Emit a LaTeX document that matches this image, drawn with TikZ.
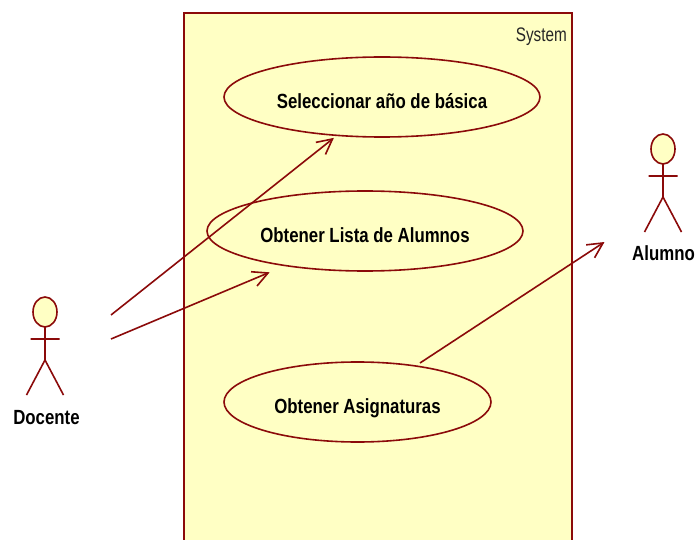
\documentclass[tikz,border=0pt]{standalone}
\usepackage{fontspec}
\setmainfont{Liberation Sans}
\newfontfamily\narrowbold[FakeStretch=0.82]{Liberation Sans Bold}
\newfontfamily\narrowreg[FakeStretch=0.78]{Liberation Sans}
\usetikzlibrary{shapes.geometric,calc}
\definecolor{umlline}{HTML}{8B0A0A}
\definecolor{umlfill}{HTML}{FFFFC4}
\tikzset{
  x=1pt,y=-1pt,
  umlstroke/.style={draw=umlline,line width=1.6pt},
  usecase/.style={ellipse,umlstroke,inner sep=0pt,outer sep=0pt,minimum width=#1,minimum height=80pt,
    text height=23pt,text depth=0pt,
    font=\narrowbold\fontsize{20.5}{24}\selectfont,text=black},
  actorhead/.style={ellipse,umlstroke,fill=umlfill,inner sep=0pt,outer sep=0pt,minimum width=24pt,minimum height=30pt},
  actorlabel/.style={inner sep=0pt,font=\narrowbold\fontsize{20.5}{24}\selectfont,text=black},
}
\newcommand{\umlactor}[3]{%
  \node[actorhead] (#3head) at (#1,#2) {};
  \coordinate (#3hip) at (#1,#2+48);
  \coordinate (#3armL) at (#1-14.5,#2+27);
  \coordinate (#3armR) at (#1+14.5,#2+27);
  \coordinate (#3legL) at (#1-18.5,#2+83);
  \coordinate (#3legR) at (#1+18.5,#2+83);
  \draw[umlstroke] (#3head.south) -- (#3hip) (#3armL) -- (#3armR) (#3hip) -- (#3legL) (#3hip) -- (#3legR);
}
\newcommand{\assocline}[2]{%
  \draw[umlstroke] (#1) -- (#2);
  \draw[umlstroke,line join=miter] ($(#2)!17pt!27:(#1)$) -- (#2) -- ($(#2)!17pt!-27:(#1)$);
}
\begin{document}
\begin{tikzpicture}
\useasboundingbox (0,0) rectangle (696,540);
\fill[umlfill] (184,13) rectangle (572,540);
\draw[umlstroke] (184,540) -- (184,13) -- (572,13) -- (572,540);
\node[anchor=east,inner sep=0pt,font=\narrowreg\fontsize{19.6}{22}\selectfont,text=black!85] (sys) at (567,36.5) {System};

\node[usecase=316pt] (uc1) at (382,97) {Seleccionar año de básica};
\node[usecase=316pt] (uc2) at (365,231) {Obtener Lista de Alumnos};
\node[usecase=267pt] (uc3) at (357.5,402) {Obtener Asignaturas};

\umlactor{45}{312}{doc}
\node[actorlabel] (doclabel) at (46.5,418) {Docente};
\umlactor{663}{149}{alu}
\node[actorlabel] (alulabel) at (663.5,253) {Alumno};

\coordinate (docoutA) at (111,315);
\coordinate (docoutB) at (111,339);
\coordinate (uc1in) at (332.5,139);
\coordinate (uc2in) at (268,273);
\coordinate (uc3out) at (420,363);
\coordinate (aluin) at (603,243);
\assocline{docoutA}{uc1in}
\assocline{docoutB}{uc2in}
\assocline{uc3out}{aluin}
\end{tikzpicture}
\end{document}
